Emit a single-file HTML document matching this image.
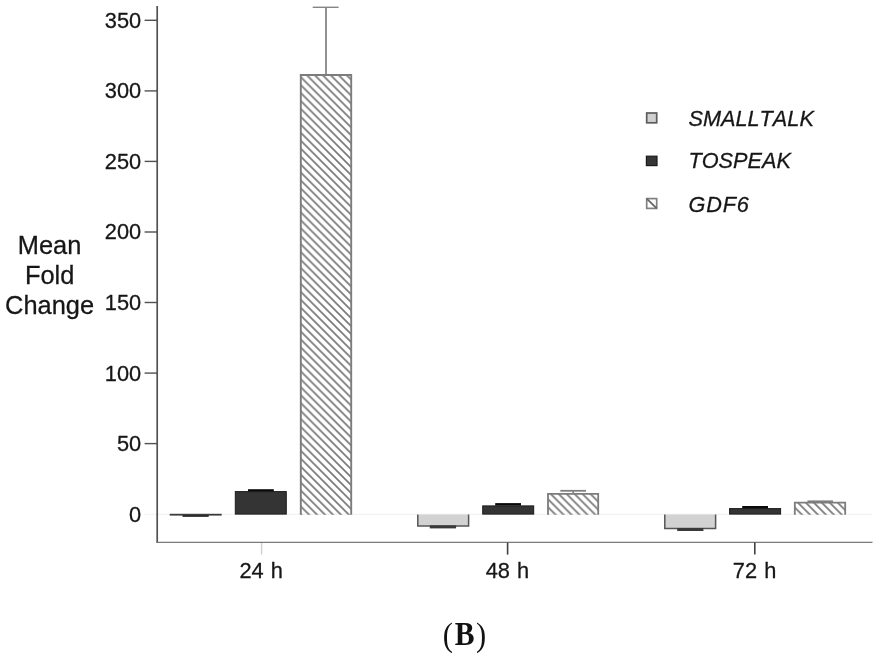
<!DOCTYPE html>
<html lang="en">
<head>
<meta charset="utf-8">
<title>Mean Fold Change</title>
<style>
html,body{margin:0;padding:0;background:#fff;}
body{width:876px;height:660px;overflow:hidden;position:relative;}
svg{position:absolute;left:0;top:0;display:block;filter:blur(0.4px);}
text{font-family:"Liberation Sans",Arial,Helvetica,sans-serif;fill:#161616;font-kerning:none;stroke:#161616;stroke-width:0.28px;}
.tick{font-size:21.8px;text-anchor:end;}
.xl{font-size:21.8px;text-anchor:middle;word-spacing:1.1px;}
.yl{font-size:25.4px;text-anchor:middle;stroke-width:0.3px;}
.lg{font-size:21.7px;font-style:italic;}
.cap{stroke:none;font-family:"Liberation Serif","Times New Roman",serif;font-size:33px;fill:#111;}
</style>
</head>
<body>
<svg width="876" height="660" viewBox="0 0 876 660">
<defs>
<pattern id="hatch" patternUnits="userSpaceOnUse" width="7.95" height="7.95" x="1.14" y="0">
<path d="M-2,-2 L9.95,9.95 M-2,-9.95 L17.9,9.95 M-9.95,-2 L9.95,17.9" stroke="#787878" stroke-width="1.7" fill="none"/>
</pattern>
</defs>
<rect width="876" height="660" fill="#fff"/>

<!-- zero line -->
<line x1="144.6" y1="514.2" x2="872.5" y2="514.2" stroke="#efefef" stroke-width="1.1"/>

<!-- axes -->
<line x1="157.2" y1="6" x2="157.2" y2="542.9" stroke="#525252" stroke-width="1.7"/>
<line x1="156.4" y1="542.3" x2="872.5" y2="542.3" stroke="#7a7a7a" stroke-width="1.15"/>

<!-- y ticks -->
<g stroke="#505050" stroke-width="1.4">
<line x1="144.6" y1="20.3" x2="157" y2="20.3"/>
<line x1="144.6" y1="90.9" x2="157" y2="90.9"/>
<line x1="144.6" y1="161.4" x2="157" y2="161.4"/>
<line x1="144.6" y1="232" x2="157" y2="232"/>
<line x1="144.6" y1="302.5" x2="157" y2="302.5"/>
<line x1="144.6" y1="373.1" x2="157" y2="373.1"/>
<line x1="144.6" y1="443.6" x2="157" y2="443.6"/>
</g>
<g class="tick">
<text x="141.2" y="28">350</text>
<text x="141.2" y="98">300</text>
<text x="141.2" y="169">250</text>
<text x="141.2" y="239">200</text>
<text x="141.2" y="310">150</text>
<text x="141.2" y="381">100</text>
<text x="141.2" y="451">50</text>
<text x="141.2" y="522">0</text>
</g>

<!-- y label -->
<g class="yl">
<text x="49.6" y="254">Mean</text>
<text x="49.6" y="284">Fold</text>
<text x="49.6" y="314">Change</text>
</g>

<!-- x ticks -->
<line x1="261.6" y1="543" x2="261.6" y2="554.5" stroke="#cfcfcf" stroke-width="1.4"/>
<line x1="507.6" y1="542.6" x2="507.6" y2="554.6" stroke="#404040" stroke-width="1.6"/>
<line x1="754.8" y1="542.6" x2="754.8" y2="554.6" stroke="#404040" stroke-width="1.6"/>
<g class="xl">
<text x="261.2" y="578">24 h</text>
<text x="507.4" y="578">48 h</text>
<text x="754.6" y="578">72 h</text>
</g>

<!-- 24 h group -->
<rect x="169.7" y="513.8" width="52" height="1.8" fill="#3c3c3c"/>
<rect x="182.5" y="515" width="26.2" height="1.9" fill="#2c2c2c"/>

<rect x="235.3" y="491.6" width="51" height="22.5" fill="#343434" stroke="#1c1c1c" stroke-width="1"/>
<rect x="248" y="489.2" width="25.8" height="2.2" fill="#0a0a0a"/>

<line x1="326" y1="7.3" x2="326" y2="75" stroke="#858585" stroke-width="1.8"/>
<line x1="312.7" y1="7.3" x2="338.6" y2="7.3" stroke="#858585" stroke-width="1.4"/>
<rect x="300.8" y="75" width="50.4" height="439.8" fill="url(#hatch)"/>
<path d="M300.8,514.8 V75 H351.2 V514.8" fill="none" stroke="#7c7c7c" stroke-width="1.9"/>

<!-- 48 h group -->
<path d="M417.8,514.6 V525.9 H468.6 V514.6 Z" fill="#d2d2d2"/>
<path d="M417.8,514.6 V525.9 H468.6 V514.6" fill="none" stroke="#555" stroke-width="1.5"/>
<rect x="429.8" y="525.4" width="26.3" height="3" fill="#3a3a3a"/>

<rect x="482.7" y="505.9" width="51" height="8.2" fill="#343434" stroke="#1c1c1c" stroke-width="1"/>
<rect x="495.2" y="503.1" width="25.8" height="2.5" fill="#0a0a0a"/>

<rect x="548" y="493.8" width="50.4" height="21" fill="url(#hatch)"/>
<path d="M548,514.8 V493.8 H598.2 V514.8" fill="none" stroke="#7c7c7c" stroke-width="1.8"/>
<line x1="573.2" y1="490.8" x2="573.2" y2="494" stroke="#808080" stroke-width="1.6"/>
<line x1="560.3" y1="490.8" x2="586" y2="490.8" stroke="#808080" stroke-width="1.8"/>

<!-- 72 h group -->
<path d="M664.8,514.6 V528.4 H715.6 V514.6 Z" fill="#d2d2d2"/>
<path d="M664.8,514.6 V528.4 H715.6 V514.6" fill="none" stroke="#555" stroke-width="1.5"/>
<rect x="677.2" y="528" width="26.2" height="3" fill="#3a3a3a"/>

<rect x="729.6" y="508.6" width="51" height="5.5" fill="#343434" stroke="#1c1c1c" stroke-width="1"/>
<rect x="742.2" y="506" width="25.8" height="2.4" fill="#0a0a0a"/>

<rect x="794.8" y="502.6" width="50.4" height="12.2" fill="url(#hatch)"/>
<path d="M794.8,514.8 V502.6 H845.2 V514.8" fill="none" stroke="#7c7c7c" stroke-width="1.8"/>
<line x1="807.5" y1="501.3" x2="833" y2="501.3" stroke="#808080" stroke-width="1.8"/>

<!-- legend -->
<rect x="646.7" y="113" width="10" height="9.8" fill="#d0d0d0" stroke="#5c5c5c" stroke-width="1.7"/>
<rect x="646.4" y="156.2" width="10.6" height="9.4" fill="#363636" stroke="#1a1a1a" stroke-width="1.2"/>
<rect x="646.7" y="198.6" width="10" height="9.8" fill="#fff" stroke="#808080" stroke-width="1.7"/>
<line x1="646.7" y1="198.6" x2="656.7" y2="208.4" stroke="#666" stroke-width="1.8"/>
<g class="lg">
<text x="688.5" y="126">SMALLTALK</text>
<text x="688.5" y="168">TOSPEAK</text>
<text x="688.5" y="212" letter-spacing="0.8">GDF6</text>
</g>

<!-- caption -->
<text class="cap" transform="translate(442.7,645) scale(0.9,1)"><tspan font-size="34" dy="0.7">(</tspan><tspan font-weight="bold" dx="2.2" dy="-0.7">B</tspan><tspan font-size="34" dx="1.5" dy="0.7">)</tspan></text>
</svg>
</body>
</html>
